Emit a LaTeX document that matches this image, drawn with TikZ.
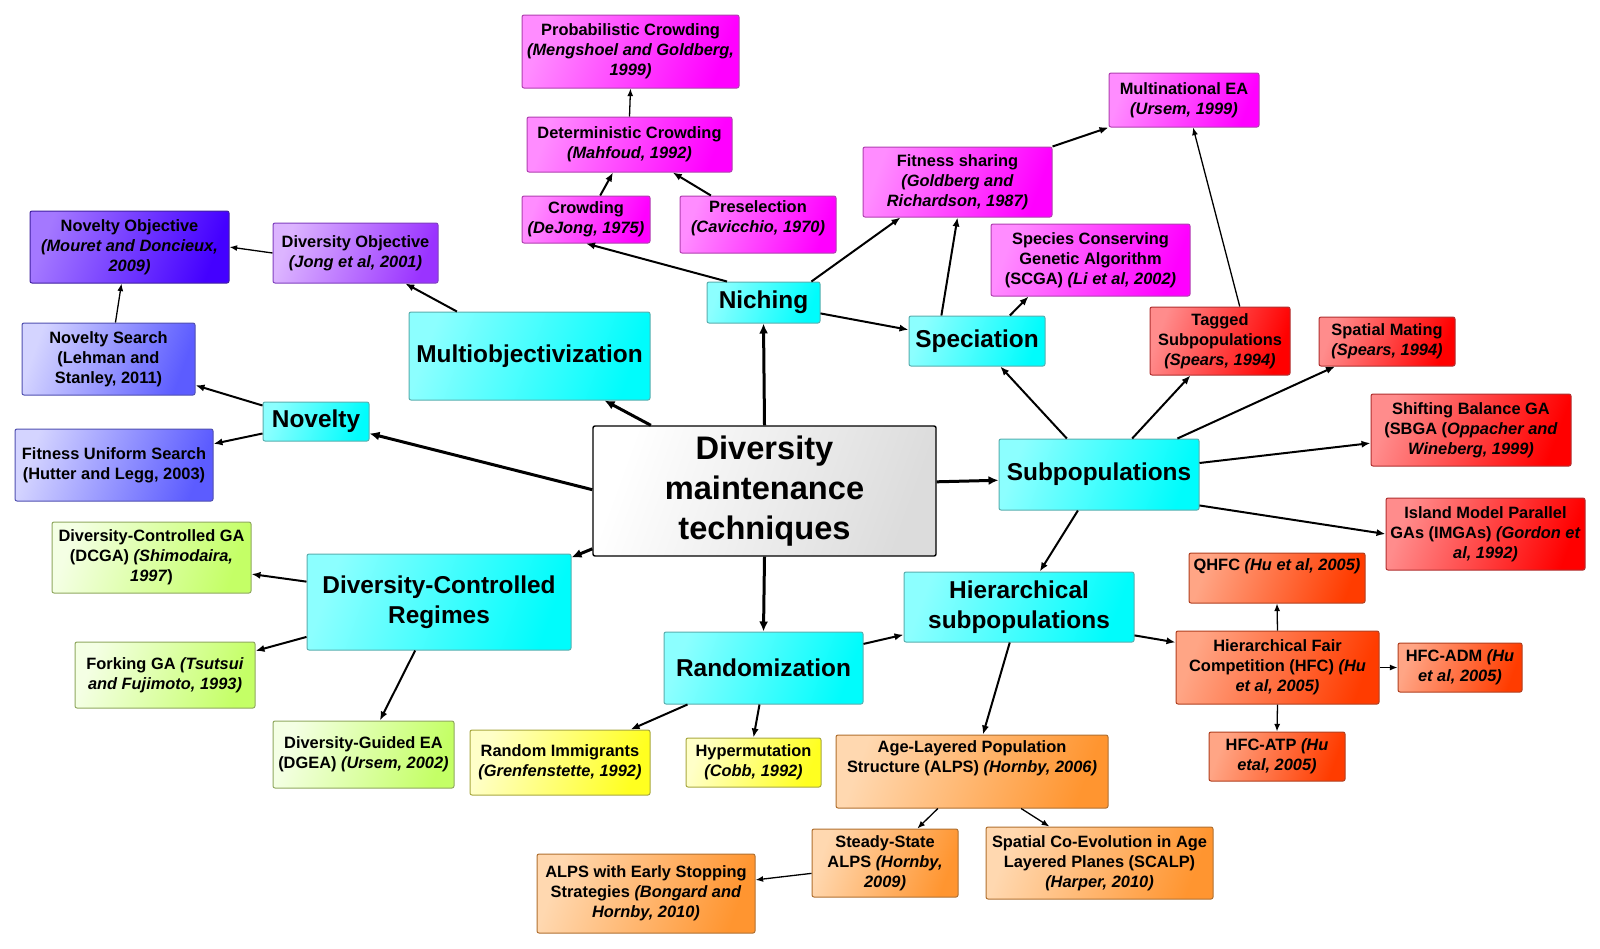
\documentclass[tikz,border=0pt]{standalone}
\usepackage{fontspec}
\setmainfont{Liberation Sans}
\usetikzlibrary{calc,arrows.meta}
\definecolor{cyL}{HTML}{8CFFFF}\definecolor{cyD}{HTML}{00FCFC}\definecolor{cyB}{HTML}{5AAFAF}
\definecolor{mgL}{HTML}{FF8CFF}\definecolor{mgD}{HTML}{FF00FF}\definecolor{mgB}{HTML}{B040B0}
\definecolor{rdL}{HTML}{FF8C8C}\definecolor{rdD}{HTML}{FF0000}\definecolor{rdB}{HTML}{B03030}
\definecolor{hfL}{HTML}{FFA585}\definecolor{hfD}{HTML}{FF3C00}\definecolor{hfB}{HTML}{B04020}
\definecolor{alL}{HTML}{FFD8B0}\definecolor{alD}{HTML}{FF9530}\definecolor{alB}{HTML}{B07030}
\definecolor{ylL}{HTML}{FFFFC8}\definecolor{ylD}{HTML}{FFFF20}\definecolor{ylB}{HTML}{A8A840}
\definecolor{gnL}{HTML}{F4FFE4}\definecolor{gnD}{HTML}{C4FF66}\definecolor{gnB}{HTML}{90A860}
\definecolor{p1L}{HTML}{DCB4FF}\definecolor{p1D}{HTML}{9A33FF}\definecolor{p1B}{HTML}{8040C0}
\definecolor{p2L}{HTML}{A478FF}\definecolor{p2D}{HTML}{4400FF}\definecolor{p2B}{HTML}{4020A0}
\definecolor{blL}{HTML}{D4D4FF}\definecolor{blD}{HTML}{5C5CFF}\definecolor{blB}{HTML}{5050B0}
\definecolor{ceL}{HTML}{FFFFFF}\definecolor{ceD}{HTML}{DCDCDC}
\newcommand\bx[7]{\node[#6, minimum width={(#4-#2)*0.5pt}, minimum height={(#5-#3)*0.5pt}] (#1) at ({(#2+#4)/2},{(#3+#5)/2}) {#7};}
\tikzset{
  box/.style={rounded corners=1pt, align=center, inner sep=1pt, line width=0.5pt},
  grad/.style n args={3}{top color=#1, bottom color=#2, shading angle=70, draw=#3},
  lf/.style={box, font=\fontsize{8.2}{10}\selectfont\bfseries},
  cat/.style={box, grad={cyL}{cyD}{cyB}, font=\fontsize{12.2}{14.8}\selectfont\bfseries},
  cenbox/.style={box, grad={ceL}{ceD}{black}, line width=0.7pt, font=\fontsize{16.3}{20}\selectfont\bfseries},
  mag/.style={lf, grad={mgL}{mgD}{mgB}},
  red/.style={lf, grad={rdL}{rdD}{rdB}},
  hfcc/.style={lf, grad={hfL}{hfD}{hfB}},
  alps/.style={lf, grad={alL}{alD}{alB}},
  yel/.style={lf, grad={ylL}{ylD}{ylB}},
  grn/.style={lf, grad={gnL}{gnD}{gnB}},
  pur/.style={lf, grad={p1L}{p1D}{p1B}},
  dpur/.style={lf, grad={p2L}{p2D}{p2B}},
  blu/.style={lf, grad={blL}{blD}{blB}},
  e1/.style={line width=1.5pt, -{Latex[length=5pt,width=4.5pt]}},
  e2/.style={line width=1pt, -{Latex[length=4.5pt,width=3.6pt]}},
  e3/.style={line width=0.65pt, -{Latex[length=3.8pt,width=3pt]}},
}
\begin{document}
\begin{tikzpicture}[x=0.5pt,y=-0.5pt]
\useasboundingbox[fill=white] (0,0) rectangle (1600,948);
% main and categories
\bx{cen}{593}{426}{936}{556}{cenbox}{Diversity\\maintenance\\techniques}
\bx{nov}{263}{402}{369}{441}{cat}{Novelty}
\bx{mob}{409}{312}{650}{400}{cat}{Multiobjectivization}
\bx{nic}{707}{282}{820}{323}{cat}{Niching}
\bx{spe}{909}{316}{1045}{366}{cat}{Speciation}
\bx{sub}{999}{439}{1199}{510}{cat}{Subpopulations}
\bx{dcr}{307}{554}{571}{650}{cat}{Diversity-Controlled\\Regimes}
\bx{ran}{664}{632}{863}{704}{cat}{Randomization}
\bx{hie}{904}{572}{1134}{642}{cat}{Hierarchical\\subpopulations}
% leaves
\bx{prob}{522}{15}{739}{88}{mag}{Probabilistic Crowding\\\textit{(Mengshoel and Goldberg,}\\\textit{1999)}}
\bx{det}{527}{117}{732}{172}{mag}{Deterministic Crowding\\\textit{(Mahfoud, 1992)}}
\bx{cro}{522}{196}{650}{243}{mag}{Crowding\\\textit{(DeJong, 1975)}}
\bx{pre}{680}{196}{836}{253}{mag}{Preselection\\\textit{(Cavicchio, 1970)}\\[-2.5pt]\mbox{}}
\bx{fit}{863}{147}{1052}{217}{mag}{Fitness sharing\\\textit{(Goldberg and}\\\textit{Richardson, 1987)}}
\bx{mul}{1109}{73}{1259}{127}{mag}{Multinational EA\\\textit{(Ursem, 1999)}}
\bx{scg}{991}{224}{1190}{296}{mag}{Species Conserving\\Genetic Algorithm\\(SCGA) \textit{(Li et al, 2002)}}
\bx{tag}{1150}{307}{1290}{375}{red}{Tagged\\Subpopulations\\\textit{(Spears, 1994)}}
\bx{spm}{1319}{317}{1455}{366}{red}{Spatial Mating\\\textit{(Spears, 1994)}}
\bx{sbg}{1371}{394}{1571}{466}{red}{Shifting Balance GA\\(SBGA (\textit{Oppacher and}\\\textit{Wineberg, 1999)}}
\bx{isl}{1386}{498}{1585}{570}{red}{Island Model Parallel\\GAs (IMGAs) \textit{(Gordon et}\\\textit{al, 1992)}}
\bx{dob}{273}{223}{438}{283}{pur}{Diversity Objective\\\textit{(Jong et al, 2001)}}
\bx{nob}{30}{211}{229}{283}{dpur}{Novelty Objective\\\textit{(Mouret and Doncieux,}\\\textit{2009)}}
\bx{nse}{22}{323}{195}{395}{blu}{Novelty Search\\(Lehman and\\Stanley, 2011)}
\bx{fus}{15}{429}{213}{501}{blu}{Fitness Uniform Search\\(Hutter and Legg, 2003)}
\bx{dcg}{52}{522}{251}{593}{grn}{Diversity-Controlled GA\\(DCGA) \textit{(Shimodaira,}\\\textit{1997})}
\bx{frk}{75}{642}{255}{708}{grn}{Forking GA \textit{(Tsutsui}\\\textit{and Fujimoto, 1993)}}
\bx{dge}{273}{721}{454}{788}{grn}{Diversity-Guided EA\\(DGEA) \textit{(Ursem, 2002)}}
\bx{rim}{470}{730}{650}{795}{yel}{Random Immigrants\\\textit{(Grenfenstette, 1992)}}
\bx{hyp}{686}{738}{821}{787}{yel}{Hypermutation\\\textit{(Cobb, 1992)}}
\bx{alp}{836}{735}{1108}{808}{alps}{Age-Layered Population\\Structure (ALPS) \textit{(Hornby, 2006)}\\[5pt]\mbox{}}
\bx{sts}{812}{829}{958}{897}{alps}{Steady-State\\ALPS \textit{(Hornby,}\\\textit{2009)}}
\bx{sce}{986}{827}{1213}{899}{alps}{Spatial Co-Evolution in Age\\Layered Planes (SCALP)\\\textit{(Harper, 2010)}}
\bx{ale}{537}{854}{755}{933}{alps}{ALPS with Early Stopping\\Strategies \textit{(Bongard and}\\\textit{Hornby, 2010)}}
\bx{qhf}{1189}{553}{1365}{603}{hfcc}{QHFC \textit{(Hu et al, 2005)}\\[3pt]\mbox{}}
\bx{hfc}{1176}{631}{1379}{704}{hfcc}{Hierarchical Fair\\Competition (HFC) \textit{(Hu}\\\textit{et al, 2005)}}
\bx{adm}{1398}{643}{1522}{692}{hfcc}{HFC-ADM \textit{(Hu}\\\textit{et al, 2005)}}
\bx{atp}{1209}{732}{1345}{781}{hfcc}{HFC-ATP \textit{(Hu}\\\textit{etal, 2005)}}
% thick edges from centre
\draw[e1] ($(cen.north west)!.49!(cen.south west)$) -- ($(nov.north east)!.8!(nov.south east)$);
\draw[e1] ($(cen.north west)!.17!(cen.north east)$) -- ($(mob.south west)!.81!(mob.south east)$);
\draw[e1] (cen.north) -- (nic.south);
\draw[e1] ($(cen.north east)!.43!(cen.south east)$) -- ($(sub.north west)!.58!(sub.south west)$);
\draw[e1] ($(cen.north west)!.94!(cen.south west)$) -- ($(dcr.north east)!.04!(dcr.south east)$);
\draw[e1] (cen.south) -- (ran.north);
% medium edges
\draw[e2] ($(nic.north west)!.18!(nic.north east)$) -- (cro.south);
\draw[e2] ($(nic.north west)!.92!(nic.north east)$) -- ($(fit.south west)!.2!(fit.south east)$);
\draw[e2] ($(nic.north east)!.76!(nic.south east)$) -- ($(spe.north west)!.28!(spe.south west)$);
\draw[e2] ($(spe.north west)!.24!(spe.north east)$) -- (fit.south);
\draw[e2] ($(spe.north west)!.74!(spe.north east)$) -- ($(scg.south west)!.19!(scg.south east)$);
\draw[e2] ($(sub.north west)!.34!(sub.north east)$) -- ($(spe.south west)!.67!(spe.south east)$);
\draw[e2] ($(sub.north west)!.665!(sub.north east)$) -- ($(tag.south west)!.29!(tag.south east)$);
\draw[e2] ($(sub.north west)!.89!(sub.north east)$) -- ($(spm.south west)!.12!(spm.south east)$);
\draw[e2] ($(sub.north east)!.34!(sub.south east)$) -- ($(sbg.north west)!.68!(sbg.south west)$);
\draw[e2] ($(sub.north east)!.93!(sub.south east)$) -- (isl.west);
\draw[e2] ($(sub.south west)!.395!(sub.south east)$) -- ($(hie.north west)!.59!(hie.north east)$);
\draw[e2] ($(ran.north east)!.17!(ran.south east)$) -- ($(hie.north west)!.89!(hie.south west)$);
\draw[e2] ($(ran.south west)!.12!(ran.south east)$) -- ($(rim.north west)!.89!(rim.north east)$);
\draw[e2] ($(ran.south west)!.48!(ran.south east)$) -- (hyp.north);
\draw[e2] ($(hie.south west)!.46!(hie.south east)$) -- ($(alp.north west)!.54!(alp.north east)$);
\draw[e2] ($(hie.north east)!.9!(hie.south east)$) -- ($(hfc.north west)!.16!(hfc.south west)$);
\draw[e2] ($(mob.north west)!.2!(mob.north east)$) -- ($(dob.south west)!.8!(dob.south east)$);
\draw[e2] ($(nov.north west)!.1!(nov.south west)$) -- ($(nse.north east)!.86!(nse.south east)$);
\draw[e2] ($(nov.north west)!.8!(nov.south west)$) -- ($(fus.north east)!.21!(fus.south east)$);
\draw[e2] ($(dcr.north west)!.29!(dcr.south west)$) -- ($(dcg.north east)!.73!(dcg.south east)$);
\draw[e2] ($(dcr.north west)!.86!(dcr.south west)$) -- ($(frk.north east)!.14!(frk.south east)$);
\draw[e2] ($(dcr.south west)!.41!(dcr.south east)$) -- ($(dge.north west)!.59!(dge.north east)$);
\draw[e2] ($(pre.north west)!.2!(pre.north east)$) -- ($(det.south west)!.71!(det.south east)$);
\draw[e2] ($(cro.north west)!.61!(cro.north east)$) -- ($(det.south west)!.42!(det.south east)$);
\draw[e2] (fit.north east) -- (mul.south west);
% thin edges
\draw[e3] (det.north) -- (prob.south);
\draw[e3] ($(tag.north west)!.64!(tag.north east)$) -- ($(mul.south west)!.56!(mul.south east)$);
\draw[e3] (hfc.north) -- (qhf.south);
\draw[e3] (hfc.east) -- (adm.west);
\draw[e3] (hfc.south) -- (atp.north);
\draw[e3] ($(alp.south west)!.375!(alp.south east)$) -- ($(sts.north west)!.72!(sts.north east)$);
\draw[e3] ($(alp.south west)!.68!(alp.south east)$) -- ($(sce.north west)!.28!(sce.north east)$);
\draw[e3] ($(sts.north west)!.65!(sts.south west)$) -- ($(ale.north east)!.33!(ale.south east)$);
\draw[e3] (dob.west) -- (nob.east);
\draw[e3] ($(nse.north west)!.54!(nse.north east)$) -- ($(nob.south west)!.46!(nob.south east)$);
\end{tikzpicture}
\end{document}
